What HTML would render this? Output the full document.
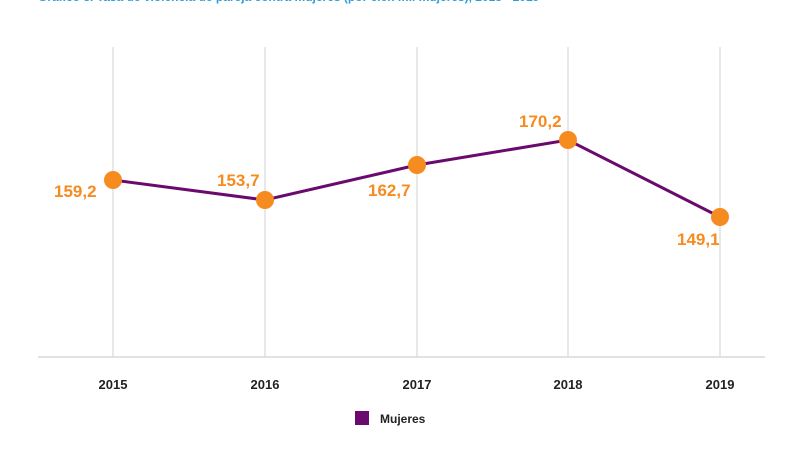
<!DOCTYPE html>
<html><head><meta charset="utf-8"><style>
body{margin:0;background:#fff;width:800px;height:445px;overflow:hidden}
</style></head><body>
<svg width="800" height="445" xmlns="http://www.w3.org/2000/svg" font-family="Liberation Sans, sans-serif">
<text x="38" y="1" font-size="12" font-weight="bold" fill="#2a9fd6">Gráfico 3. Tasa de violencia de pareja contra mujeres (por cien mil mujeres), 2015 - 2019</text>
<g stroke="#e0e0e0" stroke-width="1.5">
<line x1="113" y1="47" x2="113" y2="357"/>
<line x1="265" y1="47" x2="265" y2="357"/>
<line x1="417" y1="47" x2="417" y2="357"/>
<line x1="568" y1="47" x2="568" y2="357"/>
<line x1="720" y1="47" x2="720" y2="357"/>
</g>
<line x1="38" y1="357" x2="765" y2="357" stroke="#d8d8d8" stroke-width="1.5"/>
<polyline points="113,180 265,200 417,165 568,140 720,217" fill="none" stroke="#6b0a6e" stroke-width="3"/>
<g fill="#f68b1f">
<circle cx="113" cy="180" r="9"/><circle cx="265" cy="200" r="9"/><circle cx="417" cy="165" r="9"/><circle cx="568" cy="140" r="9"/><circle cx="720" cy="217" r="9"/>
</g>
<g fill="#f68b1f" font-size="17" font-weight="bold">
<text x="54" y="197">159,2</text>
<text x="217" y="186">153,7</text>
<text x="368" y="196">162,7</text>
<text x="519" y="127">170,2</text>
<text x="677" y="245">149,1</text>
</g>
<g font-size="13" font-weight="bold" fill="#222" text-anchor="middle">
<text x="113" y="389">2015</text><text x="265" y="389">2016</text><text x="417" y="389">2017</text><text x="568" y="389">2018</text><text x="720" y="389">2019</text>
</g>
<rect x="355" y="411" width="14" height="14" fill="#6b0a6e"/>
<text x="380" y="423" font-size="12" font-weight="bold" fill="#222">Mujeres</text>
</svg>
</body></html>
